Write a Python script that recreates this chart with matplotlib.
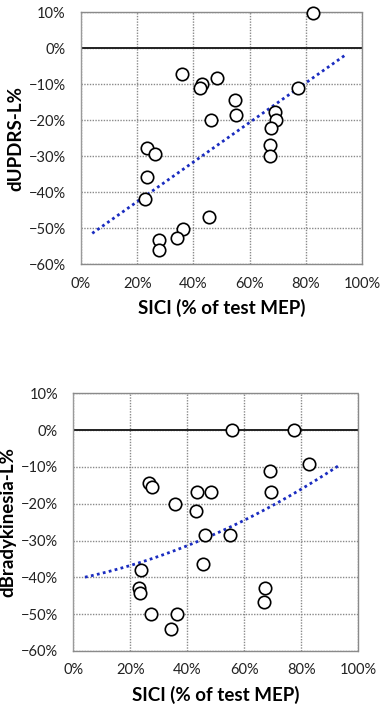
import numpy as np
import matplotlib
matplotlib.use("Agg")
import matplotlib.pyplot as plt
from matplotlib.ticker import PercentFormatter

plt.rcParams['font.family'] = ['Lato', 'DejaVu Sans']

# Top panel: dUPDRS-L% vs SICI
sici_top = [82.5, 36, 43.2, 42.5, 48.4, 54.9, 55.3, 46.1, 77.4, 68.9, 69.4, 67.5,
            67.4, 67.4, 23.5, 26.4, 23.4, 22.9, 45.5, 36.2, 34.3, 27.7, 27.7]
dupdrs = [9.8, -7, -10, -11.1, -8.3, -14.3, -18.5, -19.9, -11.1, -17.7, -19.9, -22.2,
          -26.9, -30, -27.6, -29.4, -35.7, -41.8, -46.8, -50.2, -52.7, -53.2, -56.1]

# Bottom panel: dBradykinesia-L% vs SICI
sici_bot = [55.6, 77.3, 82.7, 69, 69.3, 26.6, 27.6, 43.4, 48.3, 35.8, 42.9, 46.3,
            54.9, 45.5, 23.8, 23.2, 23.5, 27.4, 36.5, 34.2, 67.3, 67]
dbrady = [0, 0, -9.1, -11.1, -16.7, -14.3, -15.5, -16.7, -16.7, -20, -22.1, -28.4,
          -28.4, -36.4, -38.1, -42.8, -44.3, -49.9, -49.9, -54.1, -42.8, -46.7]

# Trend lines
trend_top_x = [4, 94]
trend_top_y = [-51.4, -1.9]
trend_bot_x = [4.1, 22.2, 40.4, 60.2, 80.7, 93.3]
trend_bot_y = [-40, -36.2, -31.1, -24.7, -15.5, -9.6]

xticks = [0, 20, 40, 60, 80, 100]
yticks = [-60, -50, -40, -30, -20, -10, 0, 10]

W, H = 383, 710
fig = plt.figure(figsize=(W / 100, H / 100), dpi=100)

def make_ax(rect, x, y, ylabel, tx, ty, deg):
    l, t, r, b = rect
    ax = fig.add_axes([l / W, 1 - b / H, (r - l) / W, (b - t) / H])
    ax.set_xlim(0, 100)
    ax.set_ylim(-60, 10)
    ax.set_xticks(xticks)
    ax.set_yticks(yticks)
    ax.xaxis.set_major_formatter(PercentFormatter(decimals=0))
    ax.yaxis.set_major_formatter(PercentFormatter(decimals=0))
    ax.grid(True, color='#8a8a8a', linestyle=(0, (1, 1)), linewidth=1.0)
    for name, s in ax.spines.items():
        s.set_color('#8a8a8a')
        s.set_linewidth(1.0)
        if name != 'left':
            s.set_linestyle((0, (1, 1)))
    ax.spines['left'].set_color('#9a9a9a')
    ax.tick_params(length=0, labelsize=10.5, pad=11, colors='#222222')
    ax.tick_params(axis='x', pad=9)
    ax.axhline(0, color='#222222', linewidth=1.4, zorder=2)
    coef = np.polyfit(tx, ty, deg)
    xs = np.linspace(tx[0], tx[-1], 100)
    ax.plot(xs, np.polyval(coef, xs), color='#1a2cc0', linestyle=(0, (1, 1.2)),
            linewidth=2.0, zorder=3)
    ax.scatter(x, y, s=80, facecolors='white', edgecolors='black', linewidths=1.2,
               zorder=4, clip_on=False)
    ax.set_xlabel('SICI (% of test MEP)', fontsize=13.5, fontweight='bold', labelpad=6)
    ax.set_ylabel(ylabel, fontsize=13.5, fontweight='bold', labelpad=3)
    return ax

make_ax((81, 12.3, 362, 264.3), sici_top, dupdrs, 'dUPDRS-L%', trend_top_x, trend_top_y, 1)
make_ax((73.3, 393.3, 358.3, 651), sici_bot, dbrady, 'dBradykinesia-L%', trend_bot_x, trend_bot_y, 2)

fig.savefig('out.png', dpi=100)
